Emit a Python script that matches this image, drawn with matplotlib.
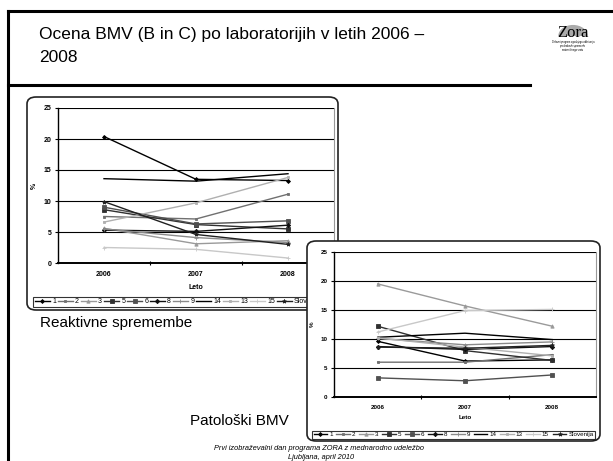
import matplotlib
matplotlib.use('Agg')
import matplotlib.pyplot as plt
from matplotlib.patches import FancyBboxPatch, Wedge
from matplotlib.lines import Line2D

W, H = 613, 461

# Data
years = [2006, 2007, 2008]
labels = ['1', '2', '3', '5', '6', '8', '9', '14', '13', '15', 'Slovenija']

# Reaktivne spremembe (%)
reakt_vals = [
    [20.4, 13.5, 13.3],
    [7.5, 7.1, 11.1],
    [5.6, 3.1, 3.6],
    [8.6, 6.2, 5.5],
    [9.0, 6.3, 6.8],
    [5.3, 5.1, 6.1],
    [5.5, 4.1, 3.3],
    [13.6, 13.2, 14.4],
    [6.6, 9.7, 13.8],
    [2.5, 2.2, 0.8],
    [9.9, 4.6, 3.0],
]

# Patoloski BMV (%)
pato_vals = [
    [9.6, 6.2, 6.4],
    [6.0, 6.0, 7.3],
    [19.5, 15.7, 12.2],
    [12.2, 8.0, 6.3],
    [3.3, 2.8, 3.8],
    [8.7, 8.2, 8.7],
    [10.1, 9.0, 9.5],
    [10.3, 11.0, 9.9],
    [10.2, 8.6, 7.1],
    [11.2, 14.9, 15.1],
    [8.6, 8.4, 8.9],
]

# Excel-like grey styles: (colour, marker, markersize)
styles = [
    ('#000000', 'D', 2.0),
    ('#707070', 's', 2.0),
    ('#9a9a9a', '^', 2.4),
    ('#303030', 's', 3.2),
    ('#505050', 's', 2.4),
    ('#101010', 'D', 2.2),
    ('#8a8a8a', '+', 3.0),
    ('#000000', '', 0),
    ('#b0b0b0', 's', 2.0),
    ('#c8c8c8', '+', 3.0),
    ('#202020', '*', 3.0),
]

plt.rcParams['font.family'] = ['Liberation Sans', 'DejaVu Sans']

fig = plt.figure(figsize=(W / 100, H / 100), dpi=100)


def px_axes(x0, y0, x1, y1, z):
    return fig.add_axes([x0 / W, 1 - y1 / H, (x1 - x0) / W, (y1 - y0) / H], zorder=z)


def box(x0, y0, x1, y1, z):
    p = FancyBboxPatch((x0 / W, 1 - y1 / H), (x1 - x0) / W, (y1 - y0) / H,
                       boxstyle='round,pad=0,rounding_size=0.015',
                       transform=fig.transFigure, facecolor='white',
                       edgecolor='#222222', linewidth=1.2, zorder=z)
    fig.patches.append(p)


def draw_chart(ax, vals, leg_anchor, fs, colsp, xpad):
    for v, (c, m, ms), lab in zip(vals, styles, labels):
        ax.plot(years, v, color=c, marker=m if m else None, markersize=ms,
                linewidth=1.0, label=lab, markeredgewidth=0.6)
    ax.set_xlim(2005.5, 2008.5)
    ax.set_ylim(0, 25)
    ax.set_yticks([0, 5, 10, 15, 20, 25])
    ax.set_xticks(years)
    ax.set_xticks([2006.5, 2007.5], minor=True)
    ax.tick_params(axis='x', which='major', length=0, pad=6, labelsize=fs)
    ax.tick_params(axis='x', which='minor', length=3, direction='inout', width=0.8)
    ax.tick_params(axis='y', length=2.5, width=0.8, pad=2, labelsize=fs)
    for t in ax.get_xticklabels() + ax.get_yticklabels():
        t.set_fontweight('bold')
    ax.grid(axis='y', color='black', linewidth=0.8)
    ax.set_axisbelow(True)
    ax.spines['left'].set_linewidth(1.0)
    ax.spines['bottom'].set_linewidth(1.4)
    ax.spines['top'].set_visible(False)
    ax.spines['right'].set_color('#999999')
    ax.spines['right'].set_linewidth(0.8)
    ax.set_xlabel('Leto', fontsize=fs, fontweight='bold', labelpad=xpad)
    ax.set_ylabel('%', fontsize=fs, fontweight='bold', labelpad=4)
    leg = ax.legend(loc='lower left', bbox_to_anchor=leg_anchor,
                    bbox_transform=fig.transFigure, ncol=11, fontsize=fs,
                    frameon=True, fancybox=False, edgecolor='black',
                    borderpad=0.25, handlelength=2.2, handletextpad=0.3,
                    columnspacing=colsp, borderaxespad=0)
    leg.get_frame().set_linewidth(0.8)


# slide frame
fig.add_artist(Line2D([8 / W, 1], [1 - 11 / H, 1 - 11 / H], color='black', linewidth=2.2))
fig.add_artist(Line2D([8 / W, 8 / W], [1 - 11 / H, 0], color='black', linewidth=2.2))
fig.add_artist(Line2D([8 / W, 530 / W], [1 - 85 / H, 1 - 85 / H], color='black', linewidth=2.2))

fig.text(39 / W, 1 - 39 / H, 'Ocena BMV (B in C) po laboratorijih v letih 2006 \u2013',
         fontsize=12.5, va='baseline')
fig.text(39 / W, 1 - 62 / H, '2008', fontsize=12.5, va='baseline')

# Zora logo
fig.patches.append(Wedge((573 / W, 1 - 36 / H), 0.024, 0, 180, facecolor='#aaaaaa',
                         edgecolor='none', transform=fig.transFigure, zorder=1))
fig.text(573 / W, 1 - 37 / H, 'Zora', family='Liberation Serif', fontsize=12,
         ha='center', va='baseline', zorder=2)
fig.text(573 / W, 1 - 43 / H, 'Dr\u017eavni program zgodnjega odkrivanja', fontsize=1.8,
         ha='center', va='baseline', zorder=2)
fig.text(573 / W, 1 - 47 / H, 'predrakavih sprememb', fontsize=1.8,
         ha='center', va='baseline', zorder=2)
fig.text(573 / W, 1 - 51 / H, 'materni\u010dnega vratu', fontsize=1.8,
         ha='center', va='baseline', zorder=2)

# left chart
box(27, 97, 338, 310, 1)
ax1 = px_axes(58, 108, 334, 263, 2)
draw_chart(ax1, reakt_vals, (33 / W, 1 - 307 / H), 5, 0.25, 4)

fig.text(40 / W, 1 - 327 / H, 'Reaktivne spremembe', fontsize=11, va='baseline')
fig.text(190 / W, 1 - 425 / H, 'Patolo\u0161ki BMV', fontsize=11, va='baseline')

# right chart
box(307, 241, 600, 441, 3)
ax2 = px_axes(334, 252, 596, 397, 4)
draw_chart(ax2, pato_vals, (312 / W, 1 - 439 / H), 4.5, 0.6, 3)

fig.text(319 / W, 1 - 450 / H, 'Prvi izobra\u017eevalni dan programa ZORA z mednarodno udele\u017ebo',
         fontsize=5.3, style='italic', ha='center', va='baseline', zorder=5)
fig.text(321 / W, 1 - 459 / H, 'Ljubljana, april 2010',
         fontsize=5.3, style='italic', ha='center', va='baseline', zorder=5)

fig.savefig('out.png', dpi=100)
